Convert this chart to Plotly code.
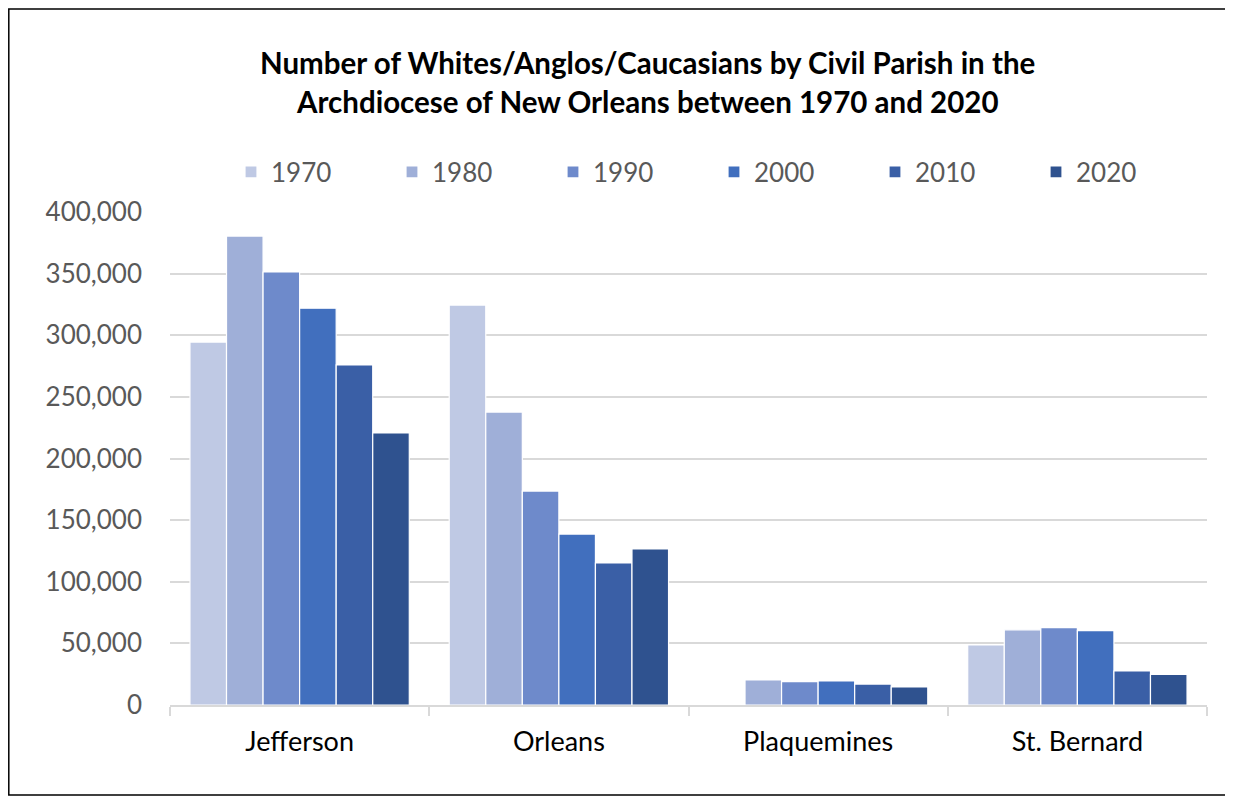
import plotly.graph_objects as go

parishes = ["Jefferson", "Orleans", "Plaquemines", "St. Bernard"]
years = ["1970", "1980", "1990", "2000", "2010", "2020"]
values = {
    "1970": [294500, 324500, None, 48700],
    "1980": [380500, 237700, 20300, 61000],
    "1990": [351300, 173600, 18900, 62700],
    "2000": [322000, 138700, 19500, 60300],
    "2010": [275900, 115200, 17000, 27600],
    "2020": [220700, 126600, 14600, 24900],
}
colors = ["#BFC9E4", "#9FAFD8", "#6E8ACB", "#416FBE", "#3A5FA6", "#2F528F"]
y_ticks = [0, 50000, 100000, 150000, 200000, 250000, 300000, 350000, 400000]
title_lines = [
    "Number of Whites/Anglos/Caucasians by Civil Parish in the",
    "Archdiocese of New Orleans between 1970 and 2020",
]

FONT = "Lato"

fig = go.Figure()
for yr, col in zip(years, colors):
    fig.add_trace(go.Bar(
        name=yr, x=parishes, y=values[yr],
        marker=dict(color=col, line=dict(color="white", width=1.2)),
    ))

# page body has an 8px margin; work in page pixels and offset
OFF = 8
W, H = 1233 - OFF, 796 - OFF
L, R, T, B = 170 - OFF, 26, 212 - OFF, 91
pw, ph = W - L - R, H - T - B

def px_x(p):
    return (p - OFF - L) / pw

def px_y(p):
    return (H - B - (p - OFF)) / ph

annotations = [
    dict(text="<b>%s</b>" % t, xref="paper", yref="paper",
         x=px_x(647), y=px_y(yc), xanchor="center", yanchor="middle",
         showarrow=False, font=dict(family=FONT, size=29.5, color="black"))
    for t, yc in zip(title_lines, [62, 102])
]

fig.update_layout(
    width=W, height=H,
    margin=dict(l=L, r=R, t=T, b=B, autoexpand=False),
    paper_bgcolor="white", plot_bgcolor="white",
    barmode="group", bargap=0.154, bargroupgap=0.0,
    annotations=annotations,
    legend=dict(
        orientation="h", x=px_x(231), xanchor="left", y=px_y(172), yanchor="middle",
        entrywidth=116, entrywidthmode="pixels",
        font=dict(family=FONT, size=26, color="#595959"),
        bgcolor="rgba(0,0,0,0)",
    ),
    font=dict(family=FONT, size=26, color="#595959"),
    xaxis=dict(
        showline=True, linecolor="#D9D9D9", linewidth=1.5,
        ticks="outside", tickson="boundaries", ticklen=9, tickcolor="#D9D9D9", tickwidth=1.5,
        tickfont=dict(family=FONT, size=27, color="black"),
        showgrid=False, ticklabelstandoff=12,
    ),
    yaxis=dict(
        range=[0, 400000], tickvals=y_ticks, tickformat=",",
        showgrid=True, gridcolor="#D9D9D9", gridwidth=1.5,
        zeroline=False, showline=False, ticks="",
        tickfont=dict(family=FONT, size=26, color="#595959"),
        ticklabelstandoff=27,
    ),
    shapes=[dict(
        type="rect", xref="paper", yref="paper",
        x0=px_x(8.8), x1=px_x(1300), y0=px_y(795), y1=px_y(9),
        line=dict(color="black", width=1.5), fillcolor="rgba(0,0,0,0)", layer="below",
    )],
)

fig.write_html("out.html")
